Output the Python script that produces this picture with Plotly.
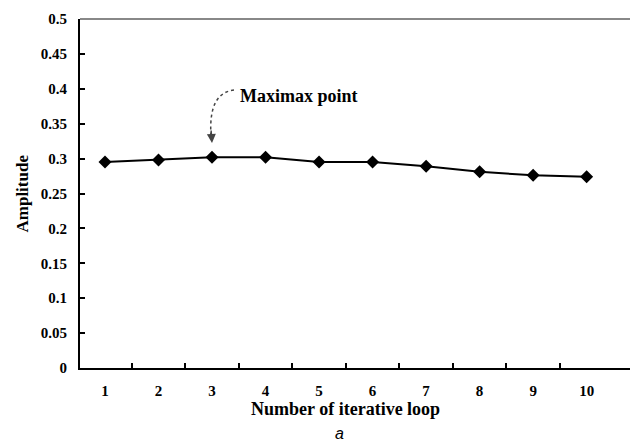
import plotly.graph_objects as go

loops = [1, 2, 3, 4, 5, 6, 7, 8, 9, 10]
amplitude = [0.295, 0.298, 0.302, 0.302, 0.295, 0.295, 0.289, 0.281, 0.276, 0.274]
y_ticks = [0, 0.05, 0.1, 0.15, 0.2, 0.25, 0.3, 0.35, 0.4, 0.45, 0.5]
y_tick_text = ["0", "0.05", "0.1", "0.15", "0.2", "0.25", "0.3", "0.35", "0.4", "0.45", "0.5"]
x_tick_text = [str(v) for v in loops]
between_ticks = [1.5, 2.5, 3.5, 4.5, 5.5, 6.5, 7.5, 8.5, 9.5]

serif = "Liberation Serif"

fig = go.Figure()
fig.add_trace(go.Scatter(
    x=loops, y=amplitude, mode="lines+markers",
    line=dict(color="black", width=2),
    marker=dict(symbol="diamond", size=10, color="black"),
    showlegend=False, hoverinfo="skip"
))

fig.update_layout(
    width=630, height=448,
    margin=dict(l=80, r=0, t=19, b=80),
    paper_bgcolor="white", plot_bgcolor="white",
    xaxis=dict(
        range=[0.533, 10.81], showgrid=False, zeroline=False,
        showline=True, linecolor="black", linewidth=2,
        tickvals=loops, ticktext=x_tick_text, ticks="",
        ticklabelstandoff=8,
        tickfont=dict(family=serif, size=15, color="black", weight="bold"),
        minor=dict(tickvals=between_ticks, ticks="inside", ticklen=5, tickwidth=2, tickcolor="black"),
    ),
    yaxis=dict(
        range=[0, 0.5], showgrid=False, zeroline=False,
        showline=True, linecolor="black", linewidth=2,
        tickvals=y_ticks, ticktext=y_tick_text, ticks="inside", ticklen=5, tickwidth=2, tickcolor="black",
        ticklabelstandoff=8,
        tickfont=dict(family=serif, size=15, color="black", weight="bold"),
    ),
)

# top border
fig.add_shape(type="line", xref="paper", yref="paper", x0=0, x1=1, y0=1, y1=1,
              line=dict(color="#888888", width=2))

# axis titles
fig.add_annotation(text="Amplitude", xref="paper", yref="paper", x=0, y=0.5,
                   xshift=-58, textangle=-90, showarrow=False,
                   xanchor="center", yanchor="middle",
                   font=dict(family=serif, size=17, color="black", weight="bold"))
fig.add_annotation(text="Number of iterative loop", xref="paper", yref="paper", x=0.482, y=0,
                   yshift=-41, showarrow=False, xanchor="center", yanchor="middle",
                   font=dict(family=serif, size=18, color="black", weight="bold"))
fig.add_annotation(text="<i>a</i>", xref="paper", yref="paper", x=0.471, y=0,
                   yshift=-65, showarrow=False, xanchor="center", yanchor="middle",
                   font=dict(family="Liberation Sans", size=16, color="black"))

# Maximax label with curved dashed arrow
fig.add_annotation(text="Maximax point", xref="paper", yref="paper", x=0.287, y=0.779,
                   xanchor="left", yanchor="middle", showarrow=False,
                   font=dict(family=serif, size=18, color="black", weight="bold"))
fig.add_shape(type="path", xref="paper", yref="paper",
              path="M 0.280,0.7966 C 0.2509,0.7908 0.2345,0.7536 0.2382,0.6648",
              line=dict(color="#444444", width=1.5, dash="dot"))
fig.add_annotation(text="", xref="paper", yref="paper", x=0.24, y=0.6447,
                   ax=-1, ay=-14, showarrow=True, arrowhead=2, arrowsize=1.2,
                   arrowwidth=1.5, arrowcolor="#444444")

fig.write_html("out.html")
